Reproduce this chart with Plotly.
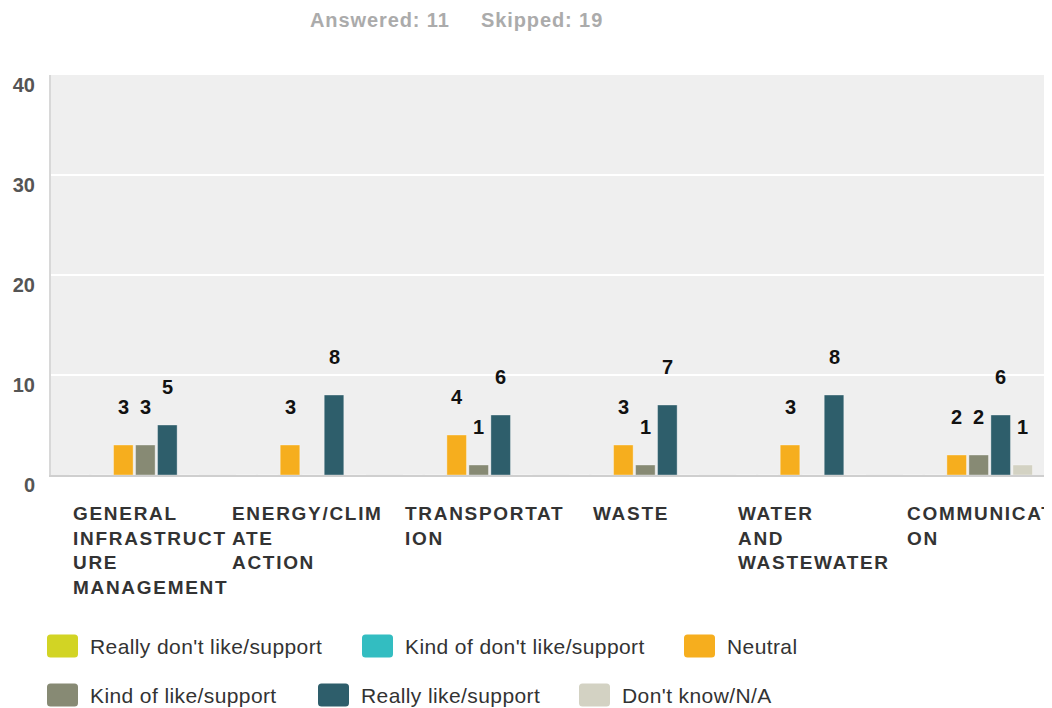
import plotly.graph_objects as go

# ---------------- data ----------------
categories = ["GENERAL INFRASTRUCTURE MANAGEMENT", "ENERGY/CLIMATE ACTION",
              "TRANSPORTATION", "WASTE", "WATER AND WASTEWATER", "COMMUNICATION"]
category_labels = ["GENERAL<br>INFRASTRUCT<br>URE<br>MANAGEMENT",
                   "ENERGY/CLIM<br>ATE<br>ACTION",
                   "TRANSPORTAT<br>ION",
                   "WASTE",
                   "WATER<br>AND<br>WASTEWATER",
                   "COMMUNICATI<br>ON"]
series_names = ["Really don't like/support", "Kind of don't like/support", "Neutral",
                "Kind of like/support", "Really like/support", "Don't know/N/A"]
really_dont = [0, 0, 0, 0, 0, 0]
kind_of_dont = [0, 0, 0, 0, 0, 0]
neutral = [3, 3, 4, 3, 3, 2]
kind_of_like = [3, 0, 1, 1, 0, 2]
really_like = [5, 8, 6, 7, 8, 6]
dont_know = [0, 0, 0, 0, 0, 1]
series_values = [really_dont, kind_of_dont, neutral, kind_of_like, really_like, dont_know]
series_colors = ["#d2d424", "#33bdc1", "#f6ae1e", "#878a74", "#2e5e6b", "#d3d2c3"]
y_ticks = [0, 10, 20, 30, 40]
answered, skipped = 11, 19

# ---------------- style / layout constants ----------------
OFF = 8                      # page body margin of the browser
W, H = 1052 - 2 * OFF, 708 - OFF
PLOT_L, PLOT_R, PLOT_T, PLOT_B = 51, 1044, 75, 475   # plot box in window pixels
BAND = 166.67                                          # px per category
ML, MR = PLOT_L - OFF, (W + OFF) - PLOT_R
MT, MB = PLOT_T - OFF, (H + OFF) - PLOT_B
BARGAP = 0.208
BARGROUPGAP = 0.11
FONT = "Liberation Sans, Arial, Helvetica, sans-serif"
label_left_px = [73, 232, 405, 593, 738, 907]          # window px of label blocks
legend_rows = [[0, 1, 2], [3, 4, 5]]
legend_swatch_left = [[47, 362, 684], [47, 318, 579]]
legend_row_y = [646, 695]


def px_to_paper_x(px):
    return (px - PLOT_L) / (PLOT_R - PLOT_L)


def px_to_paper_y(py):
    return (PLOT_B - py) / (PLOT_B - PLOT_T)


fig = go.Figure()
for name, vals, col in zip(series_names, series_values, series_colors):
    fig.add_trace(go.Bar(
        x=categories, y=vals, name=name,
        marker=dict(color=col, line=dict(color="rgba(255,255,255,0.35)", width=1)),
        showlegend=False, hoverinfo="x+y+name",
    ))

annotations = []
# value labels above bars
n = len(series_names)
slot = (1 - BARGAP) / n
for k, vals in enumerate(series_values):
    for i, v in enumerate(vals):
        if v > 0:
            annotations.append(dict(
                x=i + (k - (n - 1) / 2) * slot, y=v, xref="x", yref="y",
                text=str(v), showarrow=False, yshift=38, yanchor="middle",
                font=dict(family=FONT, size=20, color="#111111", weight="bold"),
            ))

# category labels (left aligned blocks under each group)
for i, lab in enumerate(category_labels):
    styled = "<br>".join(
        f"<span style='letter-spacing:1.7px'>{ln}</span>" for ln in lab.split("<br>"))
    annotations.append(dict(
        x=px_to_paper_x(label_left_px[i]), y=0, xref="paper", yref="paper", text=styled,
        showarrow=False, xanchor="left", yanchor="top", align="left", yshift=-28,
        borderpad=0, borderwidth=0,
        font=dict(family=FONT, size=19, color="#333333", weight="bold"),
    ))

# header
for txt, left in [(f"Answered: {answered}", 310), (f"Skipped: {skipped}", 481)]:
    annotations.append(dict(
        x=px_to_paper_x(left), y=px_to_paper_y(20), xref="paper", yref="paper",
        text=f"<span style='letter-spacing:0.9px'>{txt}</span>",
        showarrow=False, xanchor="left", yanchor="middle", borderpad=0, borderwidth=0,
        font=dict(family=FONT, size=20, color="#ababab", weight="bold")))

# custom legend with rounded swatches
shapes = []
sw, sh, r = 31, 23, 3.5
hw, hh = sw / 2, sh / 2
rr_path = (f"M {-hw + r},{-hh} L {hw - r},{-hh} Q {hw},{-hh} {hw},{-hh + r} "
           f"L {hw},{hh - r} Q {hw},{hh} {hw - r},{hh} L {-hw + r},{hh} "
           f"Q {-hw},{hh} {-hw},{hh - r} L {-hw},{-hh + r} Q {-hw},{-hh} {-hw + r},{-hh} Z")
for row, idxs in enumerate(legend_rows):
    for j, k in enumerate(idxs):
        left = legend_swatch_left[row][j]
        cy = legend_row_y[row]
        shapes.append(dict(
            type="path", xref="paper", yref="paper",
            xsizemode="pixel", ysizemode="pixel",
            xanchor=px_to_paper_x(left + hw), yanchor=px_to_paper_y(cy),
            path=rr_path, fillcolor=series_colors[k], line=dict(width=0), layer="above"))
        annotations.append(dict(
            x=px_to_paper_x(left + 43), y=px_to_paper_y(cy), xref="paper", yref="paper",
            text=f"<span style='letter-spacing:0.4px'>{series_names[k]}</span>",
            showarrow=False, xanchor="left", yanchor="middle", borderpad=0, borderwidth=0,
            font=dict(family=FONT, size=21, color="#333333")))

fig.update_layout(
    width=W, height=H,
    margin=dict(l=ML, r=MR, t=MT, b=MB, pad=0),
    paper_bgcolor="white", plot_bgcolor="#efefef",
    barmode="group", bargap=BARGAP, bargroupgap=BARGROUPGAP,
    showlegend=False,
    annotations=annotations, shapes=shapes,
    font=dict(family=FONT),
)
fig.update_xaxes(range=[-0.5, -0.5 + (PLOT_R - PLOT_L) / BAND],
                 showticklabels=False, showgrid=False, ticks="",
                 showline=True, linecolor="#cfcfcf", linewidth=2, zeroline=False)
fig.update_yaxes(range=[0, 40], tickvals=y_ticks, showgrid=True, gridcolor="white",
                 gridwidth=2, zeroline=False, showline=True, linecolor="#d8d8d8",
                 linewidth=2, ticks="", ticklabelstandoff=10,
                 ticklabelposition="outside bottom", ticklabelshift=-4,
                 tickfont=dict(family=FONT, size=20, color="#555555", weight="bold"))

fig.write_html("out.html")
